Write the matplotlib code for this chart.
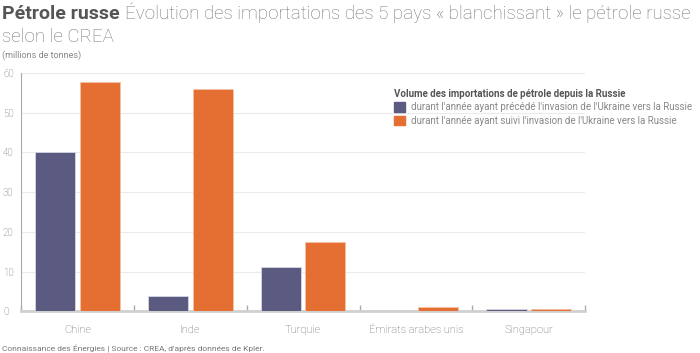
import numpy as np
import matplotlib.pyplot as plt
from matplotlib.patches import Patch

pays = ["Chine", "Inde", "Turquie", "Émirats arabes unis", "Singapour"]
avant = [40.0, 3.9, 11.2, 0.1, 0.5]
apres = [57.8, 55.9, 17.4, 1.2, 0.5]

violet = "#5b5a80"
orange = "#e56e33"

plt.rcParams['font.family'] = ['Roboto', 'DejaVu Sans']

fig = plt.figure(figsize=(7, 3.53), dpi=100)
ax = fig.add_axes([0.03, 0.118, 0.806, 0.675])

x = np.arange(len(pays))
w = 0.355
ax.bar(x - w / 2 - 0.02, avant, w, color=violet, edgecolor="#d8d8e4", linewidth=0.6, zorder=3)
ax.bar(x + w / 2 + 0.02, apres, w, color=orange, edgecolor="#f3c1a5", linewidth=0.6, zorder=3)

ax.set_xlim(-0.5, len(pays) - 0.5)
ax.set_ylim(0, 60)
ax.set_yticks(range(0, 61, 10))
ax.yaxis.grid(True, color="#ebebeb", linewidth=0.8, zorder=0)
ax.set_yticklabels([str(v) for v in range(0, 61, 10)], ha="left", fontweight="light")
ax.tick_params(axis="y", length=0, labelsize=7, labelcolor="#666666", pad=13)

ax.set_xticks(x)
ax.set_xticklabels(pays, fontsize=8, color="#666666", fontweight="light")
ax.tick_params(axis="x", length=0, pad=10)
ax.set_xticks(np.arange(len(pays) + 1) - 0.5, minor=True)
ax.tick_params(axis="x", which="minor", direction="in", length=4, color="#aaaaaa", width=1)

for s in ["top", "right"]:
    ax.spines[s].set_visible(False)
ax.spines["left"].set_color("#aaaaaa")
ax.spines["left"].set_linewidth(0.8)
ax.spines["bottom"].set_color("#d0d0d0")
ax.spines["bottom"].set_linewidth(2)

t1 = fig.text(0.003, 0.945, "Pétrole russe", fontsize=14, fontweight="bold", color="#555555")
fig.canvas.draw()
bb = t1.get_window_extent()
x2 = (bb.x1 + 5) / fig.bbox.width
fig.text(x2, 0.945, "Évolution des importations des 5 pays « blanchissant » le pétrole russe",
         fontsize=13.5, color="#777777", fontweight="light")
fig.text(0.003, 0.88, "selon le CREA", fontsize=13.5, color="#777777", fontweight="light")
fig.text(0.003, 0.835, "(millions de tonnes)", fontsize=6.5, color="#888888")
fig.text(0.003, 0.005, "Connaissance des Énergies | Source : CREA, d'après données de Kpler.",
         fontsize=6, color="#777777")

handles = [Patch(color=violet), Patch(color=orange)]
labels = ["durant l'année ayant précédé l'invasion de l'Ukraine vers la Russie",
          "durant l'année ayant suivi l'invasion de l'Ukraine vers la Russie"]
leg = ax.legend(handles, labels, title="Volume des importations de pétrole depuis la Russie",
                loc="upper left", bbox_to_anchor=(0.655, 0.95), frameon=False,
                prop={"size": 7}, title_fontsize=7, labelcolor="#888888",
                handlelength=1.1, handleheight=1.1, handletextpad=0.6,
                borderaxespad=0, labelspacing=0.35)
leg.get_title().set_fontweight("bold")
leg.get_title().set_color("#555555")
leg._legend_box.align = "left"

fig.savefig("out.png", dpi=100)
